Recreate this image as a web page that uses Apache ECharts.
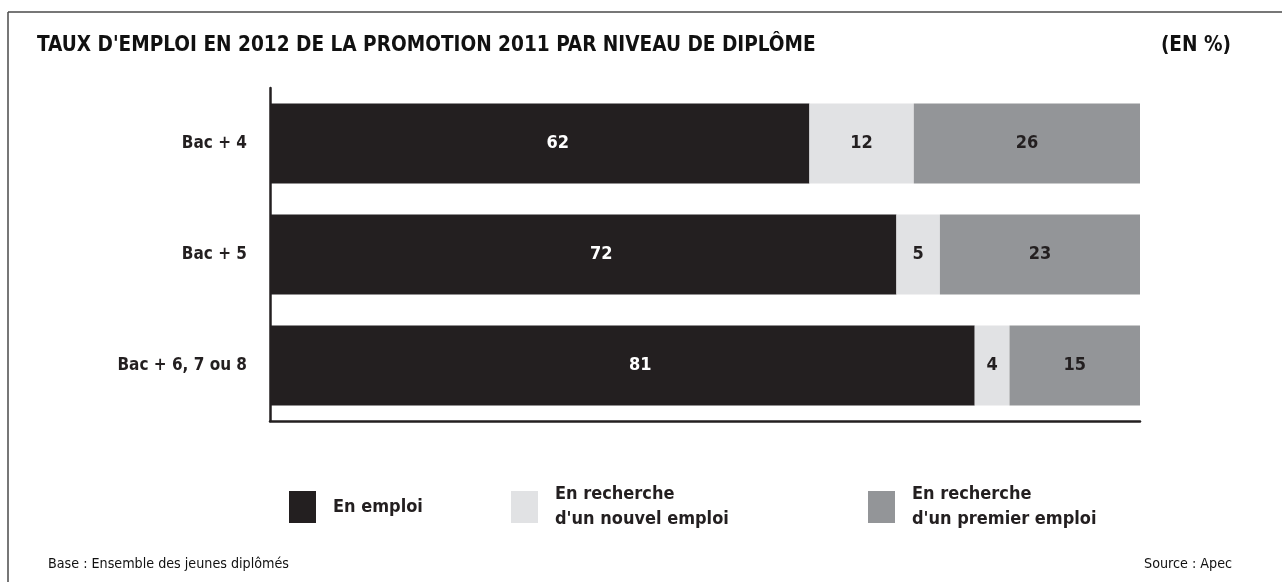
<!DOCTYPE html>
<html>
<head>
<meta charset="utf-8">
<script src="https://cdn.jsdelivr.net/npm/echarts@6/dist/echarts.min.js"></script>
<style>
html,body{margin:0;padding:0;background:#fff;}
#c{width:1282px;height:582px;}
</style>
</head>
<body>
<div id="c"></div>
<script>
const categories = ['Bac + 4', 'Bac + 5', 'Bac + 6, 7 ou 8'];
const enEmploi = [62, 72, 81];
const rechercheNouvel = [12, 5, 4];
const recherchePremier = [26, 23, 15];
const seriesNames = ['En emploi', "En recherche\nd'un nouvel emploi", "En recherche\nd'un premier emploi"];

const FONT = "'Liberation Sans Narrow', 'DejaVu Sans Condensed', 'Liberation Sans', sans-serif";
const DARK = '#231f20';
const colors = ['#231f20', '#e1e2e4', '#939598'];

const chart = echarts.init(document.getElementById('c'), null, {renderer: 'canvas'});

function lbl(color, offset) {
  return {
    show: true, position: 'inside', color: color,
    fontFamily: FONT, fontWeight: 'bold', fontSize: 18,
    offset: offset || [0, 0]
  };
}

const legendLefts = [289, 511, 868];
const legendTops = [491, 482, 482];

chart.setOption({
  backgroundColor: '#fff',
  animation: false,
  title: [
    {text: "TAUX D'EMPLOI EN 2012 DE LA PROMOTION 2011 PAR NIVEAU DE DIPLÔME", left: 37, top: 35, padding: 0,
     textStyle: {fontFamily: FONT, fontWeight: 'bold', fontSize: 20.6, color: '#111'}},
    {text: '(EN %)', right: 51, top: 35, padding: 0,
     textStyle: {fontFamily: FONT, fontWeight: 'bold', fontSize: 20.6, color: '#111'}},
    {text: 'Base : Ensemble des jeunes diplômés', left: 48, top: 557, padding: 0,
     textStyle: {fontFamily: FONT, fontWeight: 'normal', fontSize: 14.2, color: '#111'}},
    {text: 'Source : Apec', right: 50, top: 557, padding: 0,
     textStyle: {fontFamily: FONT, fontWeight: 'normal', fontSize: 14.2, color: '#111'}}
  ],
  legend: seriesNames.map((n, i) => ({
    data: [n], left: legendLefts[i], top: legendTops[i], padding: 0,
    icon: 'rect', itemWidth: 27, itemHeight: 32, itemGap: 17,
    selectedMode: false,
    textStyle: {fontFamily: FONT, fontWeight: 'bold', fontSize: 18, color: DARK, lineHeight: 25, padding: [0, 0, 0, 12]}
  })),
  grid: {left: 270, right: 142, top: 88, height: 333, containLabel: false},
  xAxis: {
    type: 'value', min: 0, max: 100,
    axisLabel: {show: false}, splitLine: {show: false}, axisTick: {show: false},
    axisLine: {show: true, lineStyle: {color: DARK, width: 2.5}}
  },
  yAxis: {
    type: 'category', data: categories, inverse: true,
    axisTick: {show: false},
    axisLine: {show: true, lineStyle: {color: DARK, width: 2.5}},
    axisLabel: {fontFamily: FONT, fontWeight: 'bold', fontSize: 17, color: DARK, margin: 23}
  },
  series: [
    {name: seriesNames[0], type: 'bar', stack: 's', barWidth: 80, data: enEmploi,
     itemStyle: {color: colors[0]}, label: lbl('#fff', [18, 0])},
    {name: seriesNames[1], type: 'bar', stack: 's', barWidth: 80, data: rechercheNouvel,
     itemStyle: {color: colors[1]}, label: lbl(DARK)},
    {name: seriesNames[2], type: 'bar', stack: 's', barWidth: 80, data: recherchePremier,
     itemStyle: {color: colors[2]}, label: lbl(DARK)}
  ],
  graphic: [
    {type: 'line', shape: {x1: 8, y1: 12, x2: 1282, y2: 12}, style: {stroke: '#4a4a4a', lineWidth: 1.5}, silent: true},
    {type: 'line', shape: {x1: 8, y1: 12, x2: 8, y2: 582}, style: {stroke: '#4a4a4a', lineWidth: 1.5}, silent: true}
  ]
});
</script>
</body>
</html>
